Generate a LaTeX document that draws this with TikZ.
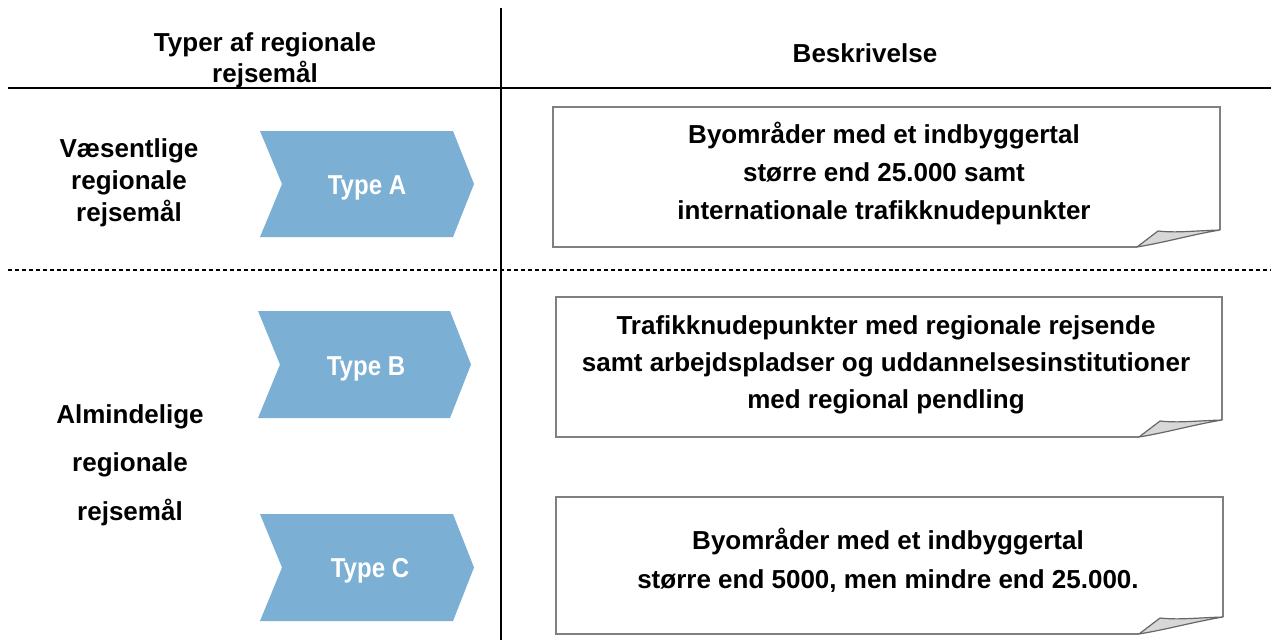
\documentclass[tikz,border=0pt]{standalone}
\usepackage{fontspec}
\setmainfont{Liberation Sans}
\newfontfamily\narrowfont[FakeStretch=0.88]{Liberation Sans}
\definecolor{chev}{RGB}{123,175,212}
\definecolor{boxline}{RGB}{128,128,128}
\definecolor{foldfill}{RGB}{215,215,215}
\newcommand{\mypagebox}[5]{% x1 y1 x2 y2 foldleft ; corner y = y2-17
  \fill[white] (#1,#2) -- (#3,#2) -- (#3,#4-17) -- (#5,#4) -- (#1,#4) -- cycle;
  \draw[boxline,line width=1.3pt,line join=miter] (#5,#4) -- (#1,#4) -- (#1,#2) -- (#3,#2) -- (#3,#4-17);
  \draw[boxline!80!black,line width=0.9pt,fill=foldfill,line join=round]
    (#5,#4) -- (#5+21,#4-16) .. controls (#5+40,#4-14) and (#3-30,#4-16) .. (#3,#4-17)
    .. controls (#3-30,#4-12) and (#5+30,#4-5) .. cycle;
}
\newcommand{\mychevron}[5]{% left top right(tip) bottom name
  \fill[chev] (#1,#2) -- (#3-21,#2) -- (#3,{(#2+#4)/2}) -- (#3-21,#4) -- (#1,#4) -- (#1+22,{(#2+#4)/2}) -- cycle;
}
\tikzset{
  lbl/.style={align=center,font=\fontsize{19.5}{24}\selectfont\bfseries,inner sep=0pt},
  desc/.style={align=center,font=\fontsize{19.5}{28.5}\selectfont\bfseries,inner sep=0pt},
  typelbl/.style={font=\narrowfont\fontsize{20.5}{24}\selectfont\bfseries,text=white,inner sep=0pt},
}
\begin{document}
\begin{tikzpicture}[x=0.75pt,y=-0.75pt]
\useasboundingbox (0,0) rectangle (1271,640);
% grid lines
\draw[line width=0.9pt] (501,8) -- (501,640);
\draw[line width=0.9pt] (8,88) -- (1271,88);
\draw[line width=0.8pt,dash pattern=on 3pt off 2.2pt] (8,270) -- (1271,270);
% headers
\node[lbl,font=\fontsize{19.5}{23.25}\selectfont\bfseries] (h1) at (265,60) {Typer af regionale\\rejsemål};
\node[lbl] (h2) at (865,53) {Beskrivelse};
% left labels
\node[lbl] (la) at (129,183) {Væsentlige\\regionale\\rejsemål};
\node[lbl,font=\fontsize{19.5}{36.4}\selectfont\bfseries] (lb) at (130,465) {Almindelige\\regionale\\rejsemål};
% chevrons
\mychevron{260}{131}{474}{237}{a}
\mychevron{258}{311}{471}{418}{b}
\mychevron{260}{514}{474}{621}{c}
\node[typelbl] (ta) at (367,188) {Type A};
\node[typelbl] (tb) at (366,369) {Type B};
\node[typelbl] (tc) at (370,571) {Type C};
% boxes
\mypagebox{553}{107}{1220}{247}{1137}
\mypagebox{556}{297}{1222}{437}{1139}
\mypagebox{556}{497}{1223}{634}{1139}
\node[desc] (da) at (884,173) {Byområder med et indbyggertal\\større end 25.000 samt\\internationale trafikknudepunkter};
\node[desc,font=\fontsize{19.5}{27.75}\selectfont\bfseries] (db) at (886,365) {Trafikknudepunkter med regionale rejsende\\samt arbejdspladser og uddannelsesinstitutioner\\med regional pendling};
\node[desc,font=\fontsize{19.5}{29.25}\selectfont\bfseries] (dc) at (888,560) {Byområder med et indbyggertal\\større end 5000, men mindre end 25.000.};
\end{tikzpicture}
\end{document}
